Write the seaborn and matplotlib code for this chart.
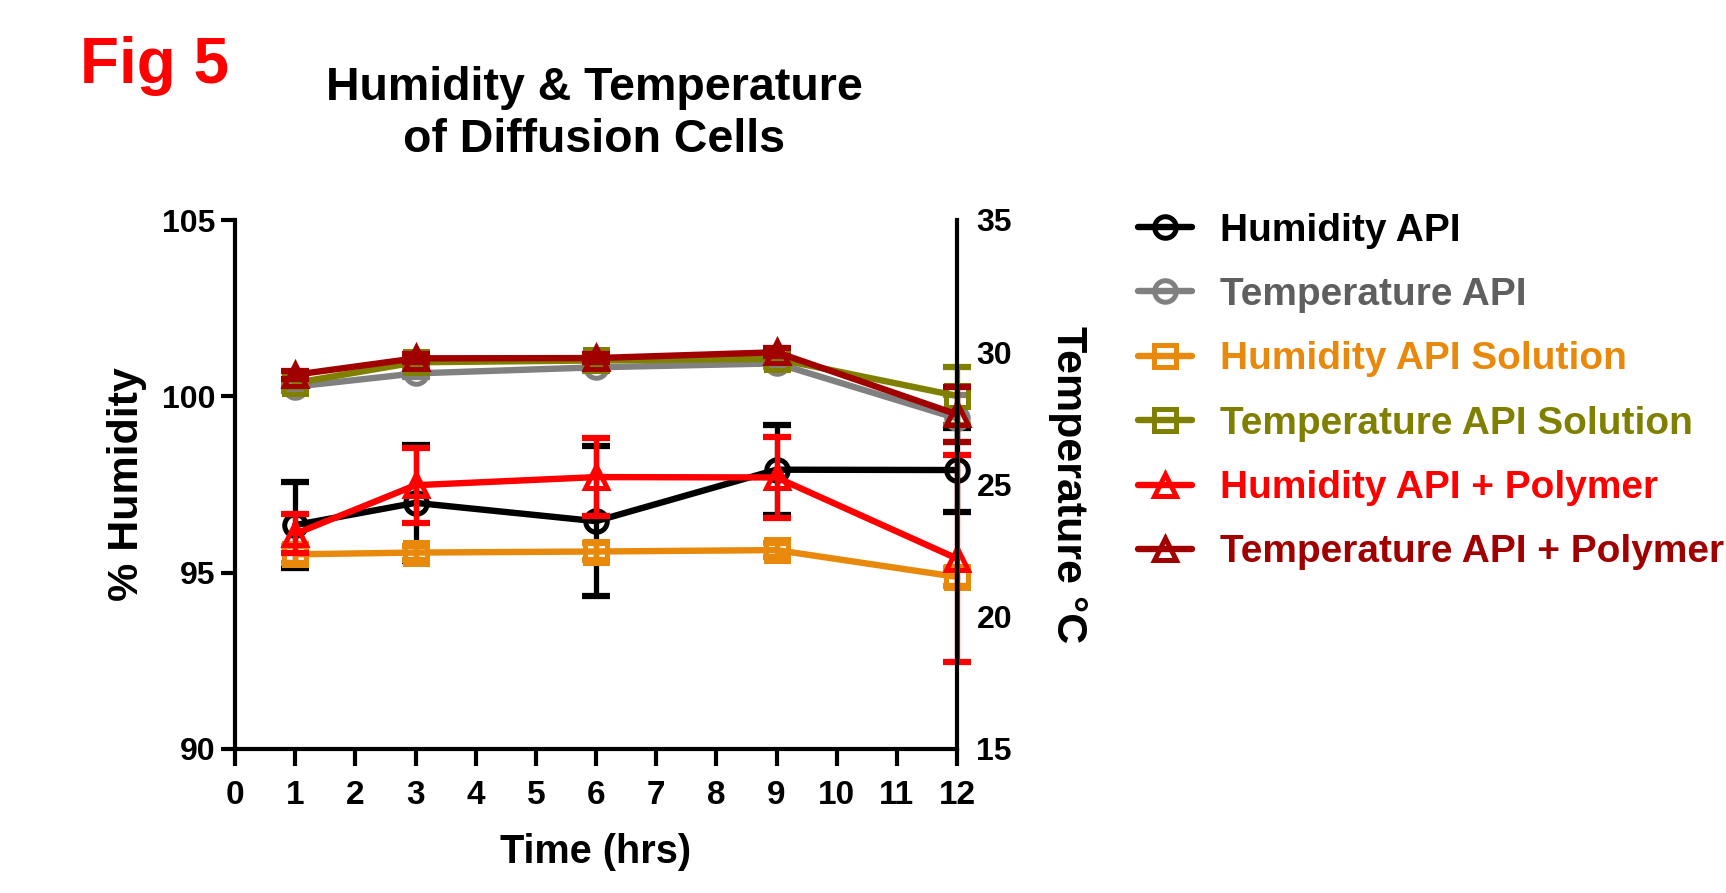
import matplotlib
matplotlib.use("Agg")
import matplotlib.pyplot as plt
from matplotlib import font_manager
import seaborn as sns

# values
time_hrs = [1, 3, 6, 9, 12]

hum_api = [96.35, 96.98, 96.46, 97.92, 97.91]
hum_api_err = [1.22, 1.65, 2.12, 1.28, 1.2]
temp_api = [28.7, 29.2, 29.43, 29.58, 27.5]
temp_api_err = [0.15, 0.15, 0.15, 0.15, 0.9]

hum_sol = [95.52, 95.57, 95.6, 95.64, 94.88]
hum_sol_err = [0.25, 0.2, 0.25, 0.2, 0.25]
temp_sol = [28.84, 29.62, 29.69, 29.75, 28.35]
temp_sol_err = [0.15, 0.15, 0.15, 0.15, 1.1]

hum_poly = [96.1, 97.48, 97.71, 97.7, 95.4]
hum_poly_err = [0.55, 1.06, 1.1, 1.15, 2.93]
temp_poly = [29.15, 29.77, 29.78, 30.0, 27.65]
temp_poly_err = [0.15, 0.15, 0.15, 0.15, 1.05]

series_labels = ["Humidity API", "Temperature API", "Humidity API Solution",
                 "Temperature API Solution", "Humidity API + Polymer",
                 "Temperature API + Polymer"]
line_colors = ["#000000", "#808080", "#E8890C", "#808000", "#FF0000", "#A00000"]
text_colors = ["#000000", "#5F5F5F", "#E8890C", "#808000", "#FF0000", "#A00000"]

sns.set_style("ticks")
names = {f.name for f in font_manager.fontManager.ttflist}
base_font = "Liberation Sans Narrow" if "Liberation Sans Narrow" in names else "Liberation Sans"
plt.rcParams["font.family"] = [base_font, "DejaVu Sans"]
plt.rcParams["font.weight"] = "bold"
for key in ("text.color", "axes.labelcolor", "xtick.color", "ytick.color", "axes.edgecolor"):
    plt.rcParams[key] = "black"

fig = plt.figure(figsize=(17.26, 8.93), dpi=100)
ax_h = fig.add_axes([235 / 1726, 1 - 749 / 893, 722 / 1726, 529 / 893])
ax_t = ax_h.twinx()

series = [
    (series_labels[0], hum_api, hum_api_err, line_colors[0], "o", ax_h),
    (series_labels[1], temp_api, temp_api_err, line_colors[1], "o", ax_t),
    (series_labels[2], hum_sol, hum_sol_err, line_colors[2], "s", ax_h),
    (series_labels[3], temp_sol, temp_sol_err, line_colors[3], "s", ax_t),
    (series_labels[4], hum_poly, hum_poly_err, line_colors[4], "^", ax_h),
    (series_labels[5], temp_poly, temp_poly_err, line_colors[5], "^", ax_t),
]

for label, y, err, color, marker, target in series:
    target.errorbar(time_hrs, y, yerr=err, fmt="none", ecolor=color,
                    elinewidth=3.8, capsize=10, capthick=4.5)
    sns.lineplot(x=time_hrs, y=y, ax=target, color=color, marker=marker,
                 markersize=15.5, markeredgewidth=3.6, markeredgecolor=color,
                 markerfacecolor="none", linewidth=4.6, label=label,
                 legend=False)

for a in (ax_h, ax_t):
    for art in a.lines + a.collections:
        art.set_clip_on(False)

ax_h.set_xlim(0, 12)
ax_h.set_ylim(90, 105)
ax_t.set_ylim(15, 35)
ax_h.set_xticks(range(0, 13))
ax_h.set_yticks([90, 95, 100, 105])
ax_t.set_yticks([15, 20, 25, 30, 35])

sns.despine(ax=ax_h, top=True, right=True)
sns.despine(ax=ax_t, top=True, left=True, bottom=True, right=False)
for sp in ("left", "bottom"):
    ax_h.spines[sp].set_linewidth(3)
ax_t.spines["right"].set_linewidth(3)

ax_h.tick_params(axis="x", length=12, width=3, labelsize=24, pad=10)
ax_h.tick_params(axis="y", length=10, width=3, labelsize=23, pad=4)
ax_t.tick_params(axis="y", length=10, width=3, labelsize=23, pad=4)

ax_h.set_xlabel("Time (hrs)", fontsize=28.5, fontweight="bold", va="center")
ax_h.set_ylabel("% Humidity", fontsize=31, fontweight="bold", va="center")
ax_t.set_ylabel("Temperature °C", fontsize=31, fontweight="bold",
                rotation=270, va="center")
ax_h.xaxis.set_label_coords(0.5, -0.195)
ax_h.yaxis.set_label_coords(-0.1496, 0.5)
ax_t.yaxis.set_label_coords(1.1537, 0.5)

fig.text(594 / 1726, 1 - 114 / 893, "Humidity & Temperature\nof Diffusion Cells",
         ha="center", va="center", fontsize=33.5, fontweight="bold",
         linespacing=1.25)
fig.text(155 / 1726, 1 - 66 / 893, "Fig 5", ha="center", va="center",
         fontsize=46, fontweight="bold", color="#FF0000")

handles, labels = [], []
for a in (ax_h, ax_t):
    h, l = a.get_legend_handles_labels()
    handles += h
    labels += l
lookup = dict(zip(labels, handles))
leg = fig.legend([lookup[l] for l in series_labels], series_labels,
                 loc="upper left", bbox_to_anchor=(1122 / 1726, 1 - 197 / 893),
                 frameon=False, fontsize=28, handlelength=1.4,
                 handletextpad=0.72, labelspacing=0.73, borderaxespad=0)
for txt, c in zip(leg.get_texts(), text_colors):
    txt.set_color(c)

fig.savefig("out.png", dpi=100)
